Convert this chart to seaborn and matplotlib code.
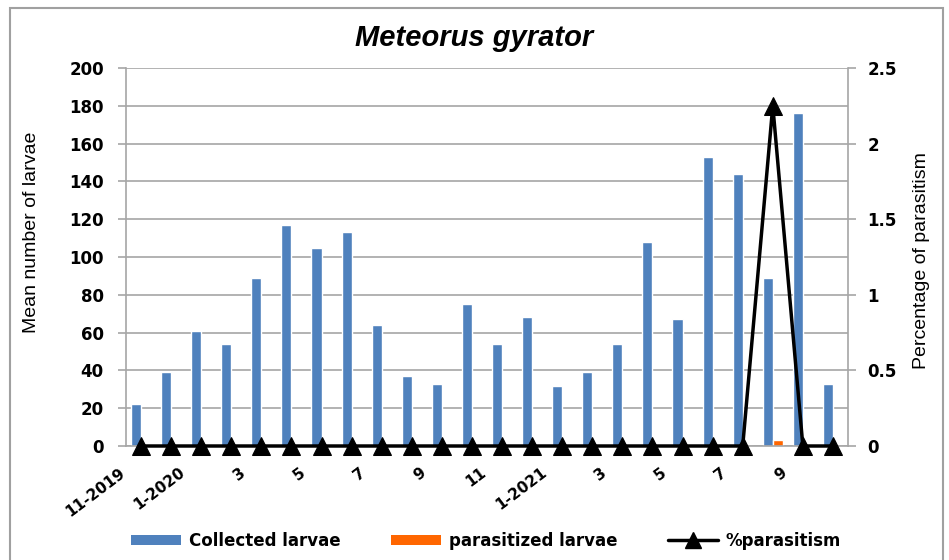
import numpy as np
import pandas as pd
import seaborn as sns
import matplotlib.pyplot as plt
import matplotlib.transforms as mtransforms
from matplotlib.patches import Patch, Rectangle
from matplotlib.lines import Line2D

# months 11-2019 .. 10-2021
months = ["11-2019", "12-2019", "1-2020", "2", "3", "4", "5", "6", "7", "8", "9", "10",
          "11", "12", "1-2021", "2", "3", "4", "5", "6", "7", "8", "9", "10"]
tick_labels = ["11-2019", "1-2020", "3", "5", "7", "9", "11", "1-2021", "3", "5", "7", "9"]
collected = [22, 39, 61, 54, 89, 117, 105, 113, 64, 37, 33, 75,
             54, 68, 32, 39, 54, 108, 67, 153, 144, 89, 176, 33]
parasitized = [0, 0, 0, 0, 0, 0, 0, 0, 0, 0, 0, 0,
               0, 0, 0, 0, 0, 0, 0, 0, 0, 3, 0, 0]
pct = [0, 0, 0, 0, 0, 0, 0, 0, 0, 0, 0, 0,
       0, 0, 0, 0, 0, 0, 0, 0, 0, 2.25, 0, 0]

blue = "#4F81BD"
orange = "#FF6600"
grid_c = "#A6A6A6"

sns.set_style("white")
plt.rcParams["font.family"] = ["DejaVu Sans"]
plt.rcParams["text.color"] = "black"
plt.rcParams["xtick.labelcolor"] = "black"
plt.rcParams["ytick.labelcolor"] = "black"
plt.rcParams["axes.labelcolor"] = "black"

pos = list(range(len(months)))
df = pd.DataFrame({
    "pos": pos * 2,
    "value": collected + parasitized,
    "series": ["Collected larvae"] * len(pos) + ["parasitized larvae"] * len(pos),
})
pdf = pd.DataFrame({"pos": pos, "pct": pct})

fig = plt.figure(figsize=(9.49, 5.6), dpi=100)
ax = fig.add_axes([126 / 949, 1 - 446 / 560, (848 - 126) / 949, (446 - 68) / 560])

sns.barplot(data=df, x="pos", y="value", hue="series", palette=[blue, orange],
            width=0.67, dodge=True, ax=ax, legend=False, saturation=1)
ax.set_xlim(-0.5, len(pos) - 0.5)
ax.set_ylim(0, 200)
ax.set_yticks(range(0, 201, 20))
ax.yaxis.grid(True, color=grid_c, linewidth=1.2)
ax.set_axisbelow(True)
for s in ["top", "right"]:
    ax.spines[s].set_visible(False)
for s in ["left", "bottom"]:
    ax.spines[s].set_color(grid_c)
    ax.spines[s].set_linewidth(1.2)

ax.set_xticks(np.arange(-0.5, len(pos), 1), minor=True)
ax.tick_params(axis="x", which="major", length=0, pad=18)
ax.tick_params(axis="x", which="minor", length=6, color=grid_c, width=1.2)
ax.tick_params(axis="y", length=6, color=grid_c, width=1.2, labelsize=12, pad=10)
for t in ax.get_yticklabels():
    t.set_fontweight("bold")

ax.set_xticks(pos[::2])
ax.set_xticklabels(tick_labels, rotation=37, ha="right", va="center",
                   rotation_mode="anchor", fontsize=11, fontweight="bold")
# excel-like placement: shift rotated labels a bit to the left
shift = mtransforms.ScaledTranslation(-17.5 / 100, 0, fig.dpi_scale_trans)
for t in ax.get_xticklabels():
    t.set_transform(t.get_transform() + shift)
ax.set_xlabel("")
ax.set_ylabel("Mean number of larvae", fontsize=14, family="Liberation Sans")
ax.yaxis.set_label_coords(-0.119, 0.566)

ax2 = ax.twinx()
sns.lineplot(data=pdf, x="pos", y="pct", color="black", linewidth=2.5, marker="^",
             markersize=13, markeredgecolor="black", ax=ax2, clip_on=False)
ax2.set_ylim(0, 2.5)
ax2.set_yticks([0, 0.5, 1, 1.5, 2, 2.5])
ax2.set_yticklabels(["0", "0.5", "1", "1.5", "2", "2.5"], fontsize=12, fontweight="bold")
ax2.tick_params(axis="y", length=6, color=grid_c, width=1.2, pad=8)
for s in ["top", "left", "bottom"]:
    ax2.spines[s].set_visible(False)
ax2.spines["right"].set_color(grid_c)
ax2.spines["right"].set_linewidth(1.2)
ax2.set_ylabel("Percentage of parasitism", fontsize=14, family="Liberation Sans")
ax2.yaxis.set_label_coords(1.090, 0.49)
ax2.set_xlabel("")

fig.text(0.5, 1 - 38 / 560, "Meteorus gyrator", ha="center", va="center",
         fontsize=21, style="italic", fontweight="bold", family="Liberation Sans")

handles = [
    Patch(facecolor=blue, edgecolor="none"),
    Patch(facecolor=orange, edgecolor="none"),
    Line2D([0], [0], color="black", linewidth=2.5, marker="^", markersize=12),
]
fig.legend(handles, ["Collected larvae", "parasitized larvae", "%parasitism"],
           loc="center", bbox_to_anchor=(486 / 949, 1 - 541 / 560), ncol=3, frameon=False,
           handlelength=3.0, handleheight=0.6, handletextpad=0.5, columnspacing=3.0,
           prop={"size": 12, "weight": "bold"})

fig.patches.append(Rectangle((10 / 949, -0.05), 933 / 949, 1.05 - 8 / 560,
                             transform=fig.transFigure, fill=False,
                             edgecolor="#A0A0A0", linewidth=1.5))

fig.savefig("out.png", dpi=100)
